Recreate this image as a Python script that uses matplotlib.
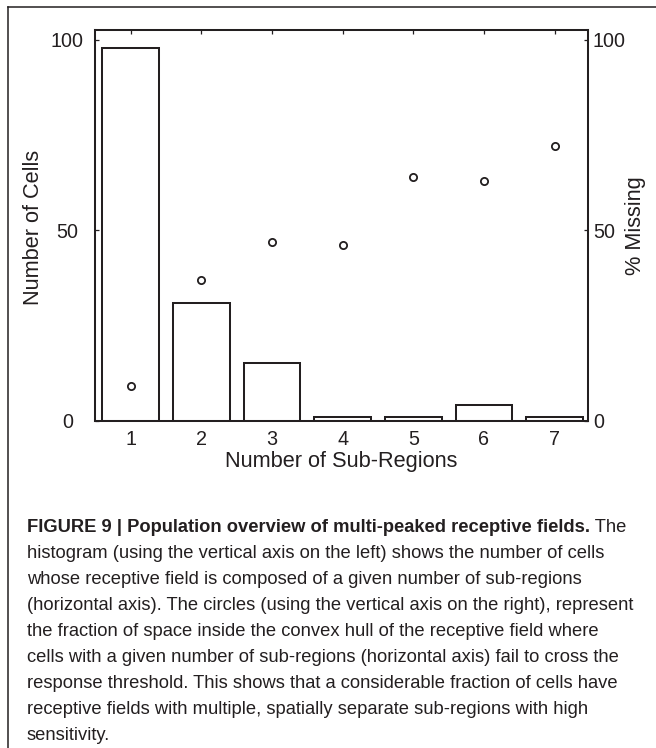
import matplotlib
matplotlib.use("Agg")
import matplotlib.pyplot as plt
from matplotlib.lines import Line2D

# Histogram: number of cells per number of sub-regions
sub_regions = [1, 2, 3, 4, 5, 6, 7]
n_cells = [98, 31, 15, 1, 1, 4, 1]
# Percentage of the convex hull where the response threshold is not crossed
pct_missing = [9, 37, 47, 46, 64, 63, 72]

y_ticks = [0, 50, 100]

caption_bold = "FIGURE 9 | Population overview of multi-peaked receptive fields."
caption_lines = [
    " The",
    "histogram (using the vertical axis on the left) shows the number of cells",
    "whose receptive field is composed of a given number of sub-regions",
    "(horizontal axis). The circles (using the vertical axis on the right), represent",
    "the fraction of space inside the convex hull of the receptive field where",
    "cells with a given number of sub-regions (horizontal axis) fail to cross the",
    "response threshold. This shows that a considerable fraction of cells have",
    "receptive fields with multiple, spatially separate sub-regions with high",
    "sensitivity.",
]

INK = "#231f20"
W, H = 656, 748
DPI = 100

plt.rcParams["font.family"] = ["Liberation Sans", "DejaVu Sans"]
plt.rcParams["text.color"] = INK

fig = plt.figure(figsize=(W / DPI, H / DPI), dpi=DPI)

# axes box in pixels (left, top, right, bottom)
x0, y0, x1, y1 = 95.4, 30.0, 587.8, 420.5
ax = fig.add_axes([x0 / W, 1 - y1 / H, (x1 - x0) / W, (y1 - y0) / H])

ax.bar(sub_regions, n_cells, width=0.8, facecolor="white",
       edgecolor=INK, linewidth=1.45, zorder=2)
ax.set_xlim(0.5, 7.47)
ax.set_ylim(0, 102.6)
ax.set_xticks(sub_regions)
ax.set_yticks(y_ticks)
ax.tick_params(axis="x", direction="in", top=True, bottom=True, length=2.9,
               width=0.9, color=INK, labelsize=14.2, labelcolor=INK, pad=7.0)
ax.tick_params(axis="y", direction="in", left=True, right=False, length=2.9,
               width=0.9, color=INK, labelsize=14.2, labelcolor=INK, pad=20.2)
for lab in ax.get_yticklabels():
    lab.set_horizontalalignment("center")

ax2 = ax.twinx()
ax2.plot(sub_regions, pct_missing, linestyle="none", marker="o",
         markersize=5.2, markerfacecolor="white", markeredgecolor=INK,
         markeredgewidth=1.3, zorder=3)
ax2.set_ylim(0, 102.6)
ax2.set_yticks(y_ticks)
ax2.tick_params(axis="y", direction="in", length=2.9, width=0.9, color=INK,
                labelsize=14.2, labelcolor=INK, pad=3.6)

for a in (ax, ax2):
    for sp in a.spines.values():
        sp.set_linewidth(1.45)
        sp.set_color(INK)

ax.set_xlabel("Number of Sub-Regions", fontsize=15.7, color=INK, va="center")
ax.xaxis.set_label_coords(0.5, -(462 - y1) / (y1 - y0))
ax.set_ylabel("Number of Cells", fontsize=15.7, color=INK, va="center")
ax.yaxis.set_label_coords((34 - x0) / (x1 - x0), (y1 - 227) / (y1 - y0))
ax2.set_ylabel("% Missing", fontsize=15.7, color=INK, va="center", rotation=90)
ax2.yaxis.set_label_coords((636 - x0) / (x1 - x0), (y1 - 225.5) / (y1 - y0))

# frame lines along the top and left edges of the panel
fig.add_artist(Line2D([8 / W, 8 / W], [0, 1 - 7 / H], transform=fig.transFigure,
                      color=INK, linewidth=1.1))
fig.add_artist(Line2D([8 / W, 1], [1 - 7 / H, 1 - 7 / H], transform=fig.transFigure,
                      color=INK, linewidth=1.1))

# caption
cap_size = 13.25
cap_x = 27 / W
base0 = 531.7
step = 26.05
tb = fig.text(cap_x, 1 - base0 / H, caption_bold, fontsize=cap_size,
              fontweight="bold", va="baseline", ha="left")
renderer = fig.canvas.get_renderer()
bb = tb.get_window_extent(renderer=renderer)
fig.text(bb.x1 / W, 1 - base0 / H, caption_lines[0], fontsize=cap_size,
         va="baseline", ha="left")
for i, line in enumerate(caption_lines[1:], start=1):
    fig.text(cap_x, 1 - (base0 + step * i) / H, line, fontsize=cap_size,
             va="baseline", ha="left")

fig.savefig("out.png", dpi=DPI)
